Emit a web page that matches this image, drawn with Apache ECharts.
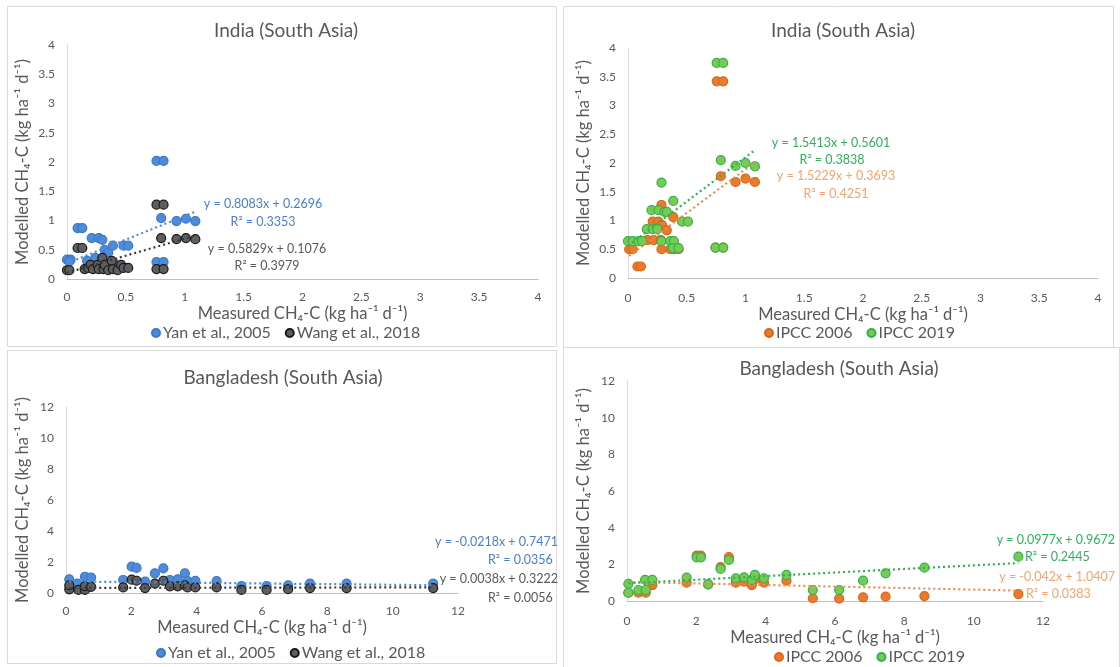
<!DOCTYPE html>
<html><head><meta charset="utf-8">
<script src="https://cdn.jsdelivr.net/npm/echarts@6/dist/echarts.min.js"></script>
<style>html,body{margin:0;padding:0;background:#fff}#c{width:1120px;height:667px}</style>
</head><body><div id="c"></div><script>
const FONT = 'Lato, "Liberation Sans", sans-serif';
const TXT = '#595959';

// ---- tick values ----
const indiaTicks = [0, 0.5, 1, 1.5, 2, 2.5, 3, 3.5, 4];
const bangTicks = [0, 2, 4, 6, 8, 10, 12];

// ---- India, panel A (Yan / Wang) ----
const indiaYan = [[0.00,0.33],[0.03,0.33],[0.02,0.30],[0.09,0.87],[0.13,0.87],[0.17,0.31],[0.21,0.70],[0.24,0.36],[0.27,0.70],[0.30,0.67],[0.32,0.50],[0.35,0.45],[0.39,0.57],[0.48,0.57],[0.52,0.57],[0.40,0.27],[0.76,2.02],[0.82,2.02],[0.80,1.04],[0.93,0.99],[1.01,1.03],[1.09,0.99],[0.76,0.29],[0.82,0.29]];
const indiaWang = [[0.00,0.15],[0.02,0.15],[0.09,0.53],[0.13,0.53],[0.15,0.17],[0.18,0.19],[0.20,0.24],[0.22,0.17],[0.26,0.24],[0.27,0.17],[0.30,0.36],[0.31,0.17],[0.32,0.24],[0.35,0.15],[0.38,0.31],[0.39,0.17],[0.43,0.15],[0.46,0.24],[0.48,0.19],[0.52,0.19],[0.76,1.27],[0.82,1.27],[0.80,0.70],[0.93,0.68],[1.01,0.70],[1.09,0.68],[0.76,0.17],[0.82,0.17]];
// ---- India, panel B (IPCC) ----
const indiaIpcc2006 = [[0.01,0.50],[0.04,0.50],[0.08,0.20],[0.11,0.20],[0.165,0.66],[0.22,0.66],[0.28,0.66],[0.21,0.98],[0.26,0.98],[0.285,1.27],[0.29,0.92],[0.33,0.83],[0.385,1.06],[0.285,0.50],[0.36,0.50],[0.39,0.50],[0.43,0.50],[0.755,3.42],[0.81,3.42],[0.79,1.77],[0.915,1.67],[1.00,1.73],[1.08,1.67],[0.745,0.53],[0.81,0.53]];
const indiaIpcc2019 = [[0.00,0.64],[0.04,0.64],[0.09,0.64],[0.12,0.64],[0.16,0.85],[0.21,0.85],[0.25,0.85],[0.20,1.18],[0.26,1.18],[0.31,1.15],[0.33,1.15],[0.285,1.66],[0.385,1.34],[0.46,0.98],[0.51,0.98],[0.285,0.64],[0.36,0.64],[0.39,0.64],[0.38,0.52],[0.43,0.52],[0.755,3.74],[0.81,3.74],[0.79,2.05],[0.915,1.95],[1.00,2.00],[1.08,1.94],[0.745,0.53],[0.81,0.53]];
// ---- Bangladesh, panel C (Yan / Wang) ----
const bangYan = [[0.10,0.88],[0.35,0.60],[0.58,1.05],[0.77,1.00],[1.75,0.84],[2.01,1.70],[2.16,1.62],[2.42,0.73],[2.72,1.27],[2.98,1.59],[3.18,0.84],[3.42,0.88],[3.64,1.27],[3.72,0.77],[3.96,0.79],[4.61,0.77],[5.37,0.45],[6.14,0.45],[6.80,0.50],[7.47,0.60],[8.59,0.60],[11.24,0.60]];
const bangWang = [[0.10,0.24],[0.10,0.50],[0.38,0.20],[0.58,0.20],[0.58,0.45],[0.77,0.40],[1.75,0.36],[2.01,0.86],[2.16,0.79],[2.42,0.32],[2.72,0.60],[2.98,0.79],[3.18,0.43],[3.42,0.43],[3.64,0.50],[3.72,0.36],[3.96,0.36],[4.61,0.36],[5.37,0.20],[6.14,0.20],[6.80,0.25],[7.47,0.32],[8.59,0.32],[11.24,0.32]];
// ---- Bangladesh, panel D (IPCC) ----
const bangIpcc2006 = [[0.04,0.45],[0.33,0.45],[0.54,0.45],[0.73,0.87],[1.72,1.00],[2.01,2.47],[2.13,2.47],[2.34,0.91],[2.70,1.85],[2.94,2.40],[3.14,1.00],[3.38,1.05],[3.60,0.87],[3.69,1.18],[3.95,1.00],[4.60,1.11],[5.36,0.15],[6.12,0.13],[6.81,0.20],[7.46,0.24],[8.58,0.27],[11.29,0.37]];
const bangIpcc2019 = [[0.04,0.93],[0.04,0.45],[0.33,0.60],[0.54,0.60],[0.52,1.15],[0.73,1.15],[1.72,1.27],[2.01,2.38],[2.13,2.38],[2.34,0.91],[2.70,1.75],[2.94,2.24],[3.14,1.24],[3.38,1.29],[3.60,1.15],[3.69,1.42],[3.95,1.24],[4.60,1.42],[5.36,0.60],[6.12,0.60],[6.81,1.11],[7.46,1.51],[8.58,1.82],[11.29,2.42]];

// ---- trendline [slope, intercept, R2] ----
const trendIndiaYan = [0.8083, 0.2696, 0.3353];
const trendIndiaWang = [0.5829, 0.1076, 0.3979];
const trendIndia2006 = [1.5229, 0.3693, 0.4251];
const trendIndia2019 = [1.5413, 0.5601, 0.3838];
const trendBangYan = [-0.0218, 0.7471, 0.0356];
const trendBangWang = [0.0038, 0.3222, 0.0056];
const trendBang2006 = [-0.042, 1.0407, 0.0383];
const trendBang2019 = [0.0977, 0.9672, 0.2445];

// ---- colours ----
const BLUE = '#4E8CDA', BLUE_B = '#3A78C8', BLUE_T = '#4A7ECF';
const GRAY = '#5E5E5E', GRAY_B = '#1a1a1a';
const ORANGE = '#EA7A2C', ORANGE_B = '#D9661A', ORANGE_T = '#F4A46C';
const GREEN = '#78CB52', GREEN_B = '#2FB24F', GREEN_T = '#2DB25A';

const grids = [
  {left: 67, top: 45, width: 471, height: 234},
  {left: 628, top: 48, width: 470, height: 230},
  {left: 66, top: 407, width: 392, height: 186},
  {left: 627, top: 381, width: 416, height: 220}
];
const yTitle = 'Modelled CH\u2084-C (kg ha\u207B\u00B9 d\u207B\u00B9)';
const xTitle = 'Measured CH\u2084-C (kg ha\u207B\u00B9 d\u207B\u00B9)';

function axis(ticks, isX, idx, labelMargin, name, gap) {
  return {
    type: 'value', gridIndex: idx,
    min: ticks[0], max: ticks[ticks.length - 1], interval: ticks[1] - ticks[0],
    axisLine: {show: true, lineStyle: {color: isX ? '#bfbfbf' : '#d9d9d9', width: 1}},
    axisTick: {show: false}, splitLine: {show: false},
    axisLabel: {color: TXT, fontSize: 12, fontFamily: FONT, margin: labelMargin},
    name: name, nameLocation: 'middle', nameGap: gap,
    nameTextStyle: {color: TXT, fontSize: 16.5, fontFamily: FONT}
  };
}
const xAxes = [
  axis(indiaTicks, true, 0, 12, xTitle, 26),
  axis(indiaTicks, true, 1, 14, xTitle, 28),
  axis(bangTicks, true, 2, 12, xTitle, 26),
  axis(bangTicks, true, 3, 14, xTitle, 28)
];
const yAxes = [
  axis(indiaTicks, false, 0, 12, yTitle, 36),
  axis(indiaTicks, false, 1, 12, yTitle, 36),
  axis(bangTicks, false, 2, 12, yTitle, 35),
  axis(bangTicks, false, 3, 12, yTitle, 35)
];

function scatter(name, data, idx, fill, border) {
  return {type: 'scatter', name: name, data: data, xAxisIndex: idx, yAxisIndex: idx,
    symbolSize: 9, itemStyle: {color: fill, borderColor: border, borderWidth: 1.2, opacity: 1}, z: 3};
}
function trend(id, coef, data, idx, color) {
  const xs = data.map(d => d[0]);
  const x0 = Math.min.apply(null, xs), x1 = Math.max.apply(null, xs);
  return {type: 'line', name: id, xAxisIndex: idx, yAxisIndex: idx, symbol: 'none', silent: true, z: 4,
    data: [[x0, coef[0] * x0 + coef[1]], [x1, coef[0] * x1 + coef[1]]],
    lineStyle: {color: color, width: 2.2, type: [2, 3]}};
}
function eqText(c) {
  const s = c[0] < 0 ? '-' + Math.abs(c[0]) : String(c[0]);
  return 'y = ' + s + 'x + ' + c[1];
}
function label(text, x, y, color, align) {
  return {type: 'text', x: x, y: y, style: {text: text, fill: color, font: '12.5px ' + FONT,
    textAlign: align || 'center', textVerticalAlign: 'middle'}};
}
function title(text, x, y) {
  return {type: 'text', x: x, y: y, style: {text: text, fill: TXT, font: '19px ' + FONT,
    textAlign: 'center', textVerticalAlign: 'middle'}};
}
function panel(x, y, w, h) {
  return {type: 'rect', shape: {x: x + 0.5, y: y + 0.5, width: w, height: h},
    style: {fill: null, stroke: '#d9d9d9', lineWidth: 1}, silent: true, z: -1};
}
function legend(names, left, top) {
  return {data: names, left: left, top: top, icon: 'circle', itemWidth: 8, itemHeight: 8, itemGap: 14,
    textStyle: {color: TXT, fontSize: 16, fontFamily: FONT, padding: [0, 0, 0, -2]}, selectedMode: false};
}

const option = {
  animation: false,
  backgroundColor: '#fff',
  textStyle: {fontFamily: FONT},
  grid: grids,
  xAxis: xAxes,
  yAxis: yAxes,
  legend: [
    legend(['Yan et al., 2005', 'Wang et al., 2018'], 146, 320),
    legend(['IPCC 2006', 'IPCC 2019'], 759, 320),
    legend(['Yan et al., 2005', 'Wang et al., 2018'], 151, 640),
    legend(['IPCC 2006', 'IPCC 2019'], 769, 644)
  ],
  series: [
    scatter('Yan et al., 2005', indiaYan, 0, BLUE, BLUE_B),
    scatter('Wang et al., 2018', indiaWang, 0, GRAY, GRAY_B),
    trend('tA1', trendIndiaYan, indiaYan, 0, BLUE),
    trend('tA2', trendIndiaWang, indiaWang, 0, '#3a3a3a'),
    scatter('IPCC 2006', indiaIpcc2006, 1, ORANGE, ORANGE_B),
    scatter('IPCC 2019', indiaIpcc2019, 1, GREEN, GREEN_B),
    trend('tB1', trendIndia2006, indiaIpcc2006, 1, '#F08A4A'),
    trend('tB2', trendIndia2019, indiaIpcc2019, 1, GREEN_B),
    scatter('Yan et al., 2005', bangYan, 2, BLUE, BLUE_B),
    scatter('Wang et al., 2018', bangWang, 2, GRAY, GRAY_B),
    trend('tC1', trendBangYan, bangYan, 2, BLUE),
    trend('tC2', trendBangWang, bangWang, 2, '#3a3a3a'),
    scatter('IPCC 2006', bangIpcc2006, 3, ORANGE, ORANGE_B),
    scatter('IPCC 2019', bangIpcc2019, 3, GREEN, GREEN_B),
    trend('tD1', trendBang2006, bangIpcc2006, 3, '#F08A4A'),
    trend('tD2', trendBang2019, bangIpcc2019, 3, GREEN_B)
  ],
  graphic: [
    panel(7, 6, 549, 340),
    panel(563, 6, 550, 341),
    panel(7, 350, 549, 313),
    panel(563, 347, 556, 325),
    title('India (South Asia)', 286, 31),
    title('India (South Asia)', 843, 31),
    title('Bangladesh (South Asia)', 283, 378),
    title('Bangladesh (South Asia)', 839, 369),
    label(eqText(trendIndiaYan), 263, 204, BLUE_T),
    label('R\u00B2 = ' + trendIndiaYan[2], 263, 222, BLUE_T),
    label(eqText(trendIndiaWang), 267, 249, TXT),
    label('R\u00B2 = ' + trendIndiaWang[2], 267, 266, TXT),
    label(eqText(trendIndia2019), 831, 143, GREEN_T),
    label('R\u00B2 = ' + trendIndia2019[2], 832, 160, GREEN_T),
    label(eqText(trendIndia2006), 836, 176, ORANGE_T),
    label('R\u00B2 = ' + trendIndia2006[2], 836, 194, ORANGE_T),
    label(eqText(trendBangYan), 558, 542, BLUE_T, 'right'),
    label('R\u00B2 = ' + trendBangYan[2], 488, 560, BLUE_T, 'left'),
    label(eqText(trendBangWang), 558, 579, TXT, 'right'),
    label('R\u00B2 = ' + trendBangWang[2], 488, 598, TXT, 'left'),
    label(eqText(trendBang2019), 1115, 540, GREEN_T, 'right'),
    label('R\u00B2 = ' + trendBang2019[2], 1025, 557, GREEN_T, 'left'),
    label(eqText(trendBang2006), 1115, 577, ORANGE_T, 'right'),
    label('R\u00B2 = ' + trendBang2006[2], 1026, 594, ORANGE_T, 'left')
  ]
};
const chart = echarts.init(document.getElementById('c'), null, {renderer: 'canvas'});
chart.setOption(option);
</script></body></html>
